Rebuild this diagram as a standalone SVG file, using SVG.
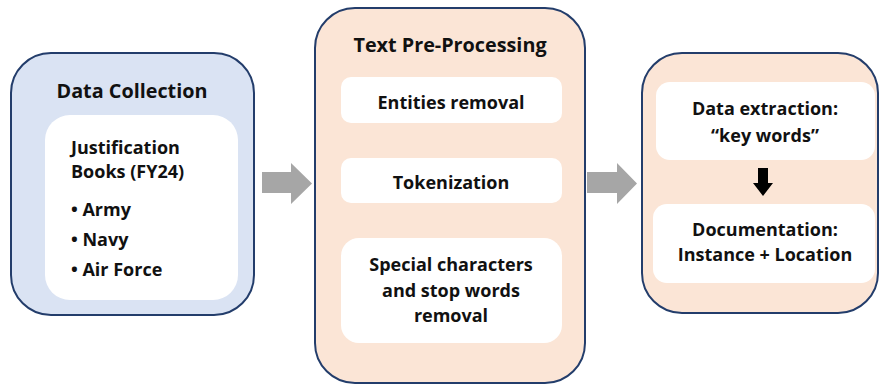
<svg xmlns="http://www.w3.org/2000/svg" width="880" height="385" viewBox="0 0 880 385">
<style>
.outer{stroke:#233d6b;stroke-width:2}
.blue{fill:#dae3f3}
.peach{fill:#fbe5d6}
.inner{fill:#ffffff;stroke:none}
text{font-family:"Open Sans","Liberation Sans",sans-serif;font-weight:bold;fill:#111111}
.title{font-size:19.8px}
.body{font-size:18px}
.c{text-anchor:middle}
.garrow{fill:#a6a6a6}
</style>
<rect width="880" height="385" fill="#ffffff"/>
<g id="data-collection">
<rect class="outer blue" x="11" y="53" width="243" height="262" rx="40"/>
<text class="title c" x="132" y="98">Data Collection</text>
<rect class="inner" x="45" y="115" width="193" height="185" rx="25"/>
<text class="body" x="71" y="154">Justification</text>
<text class="body" x="71" y="178">Books (FY24)</text>
<text class="body" x="71" y="216">• Army</text>
<text class="body" x="71" y="246">• Navy</text>
<text class="body" x="71" y="276">• Air Force</text>
</g>
<g id="text-preprocessing">
<rect class="outer peach" x="315" y="8" width="270" height="375" rx="40"/>
<text class="title c" x="450" y="52">Text Pre-Processing</text>
<rect class="inner" x="341" y="77" width="221" height="46" rx="10"/>
<text class="body c" x="451" y="109">Entities removal</text>
<rect class="inner" x="341" y="158" width="221" height="45" rx="10"/>
<text class="body c" x="451" y="189">Tokenization</text>
<rect class="inner" x="341" y="238" width="221" height="105" rx="18"/>
<text class="body c" x="451" y="271">Special characters</text>
<text class="body c" x="451" y="297">and stop words</text>
<text class="body c" x="451" y="322">removal</text>
</g>
<g id="extraction">
<rect class="outer peach" x="642" y="53" width="236" height="260" rx="40"/>
<rect class="inner" x="656" y="82" width="219" height="78" rx="14"/>
<text class="body c" x="765" y="115">Data extraction:</text>
<text class="body c" x="765" y="142">“key words”</text>
<rect class="inner" x="653" y="204" width="222" height="79" rx="14"/>
<text class="body c" x="765" y="236">Documentation:</text>
<text class="body c" x="765" y="261">Instance + Location</text>
</g>
<g id="connectors">
<polygon class="garrow" points="262,172 291,172 291,163 312,183.5 291,204 291,193 262,193"/>
<polygon class="garrow" points="587,172 617,172 617,163 637,183.5 617,204 617,193 587,193"/>
<polygon fill="#000000" points="758,168 768,168 768,183 773,183 763,196 753,183 758,183"/>
</g>
</svg>
